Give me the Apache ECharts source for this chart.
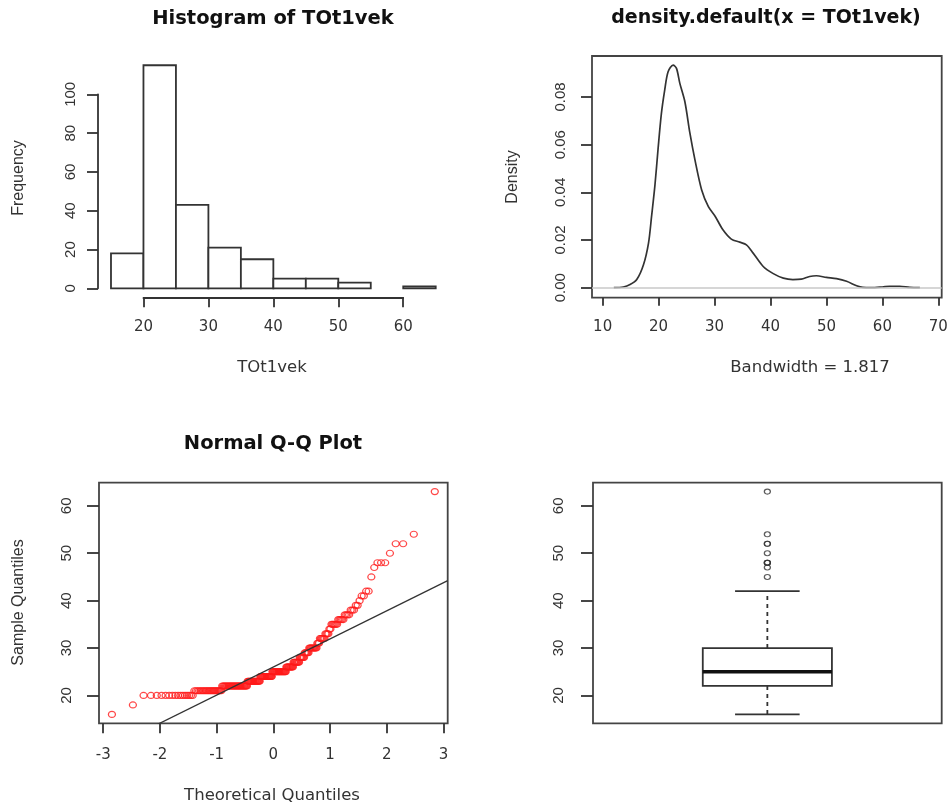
<!DOCTYPE html>
<html lang="en">
<head>
<meta charset="UTF-8">
<title>TOt1vek</title>
<script src="https://cdn.jsdelivr.net/npm/echarts@6.0.0/dist/echarts.min.js"></script>
<style>
  html, body { margin: 0; padding: 0; background: #fff; }
  #main { width: 948px; height: 805px; }
</style>
</head>
<body>
<div id="main"></div>
<script>
// histogram of TOt1vek
var histBreaks = [15, 20, 25, 30, 35, 40, 45, 50, 55, 60, 65];
var histCounts = [18, 115, 43, 21, 15, 5, 5, 3, 0, 1];
var histXTicks = [20, 30, 40, 50, 60];
var histYTicks = [0, 20, 40, 60, 80, 100];

// density curve
var densX = [12.0, 13.7, 14.9, 16.1, 17.3, 18.2, 18.75, 19.35, 19.9, 20.5, 21.1, 21.7, 22.6, 23.2, 23.8, 24.7,
  25.6, 26.5, 27.7, 28.9, 30.1, 31.5, 33.0, 34.5, 35.7, 36.9, 38.7, 40.5, 42.3, 44.0, 45.5, 47.0,
  48.2, 50.0, 51.8, 53.6, 55.4, 56.5, 58.0, 60.0, 61.3, 63.1, 64.9, 66.7];
var densY = [0, 0.0003, 0.0013, 0.0034, 0.0096, 0.0187, 0.030, 0.043, 0.058, 0.073, 0.083, 0.0906, 0.0934, 0.092, 0.0857, 0.078,
  0.0648, 0.0536, 0.041, 0.034, 0.030, 0.0243, 0.0204, 0.0191, 0.018, 0.0145, 0.0089, 0.0059, 0.004, 0.0034, 0.0036, 0.0047,
  0.005, 0.0043, 0.0038, 0.0027, 0.0008, 0.0001, 0, 0.0003, 0.0006, 0.0006, 0.0001, 0];
var densXTicks = [10, 20, 30, 40, 50, 60, 70];
var densYTicks = [0, 0.02, 0.04, 0.06, 0.08];
var bandwidth = '1.817';

// sample values and how many times each one occurs (n = 226)
var sampleValues = [16, 18, 20, 21, 22, 23, 24, 25, 26, 27, 28, 29, 30, 31, 32, 33, 34, 35, 36, 37, 38, 39, 40, 41, 42, 45, 47, 48, 50, 52, 54, 63];
var sampleCounts = [1, 1, 16, 23, 32, 19, 19, 22, 11, 9, 7, 6, 10, 3, 6, 4, 2, 6, 5, 4, 3, 2, 1, 2, 2, 1, 1, 3, 1, 2, 1, 1];
var qqXTicks = [-3, -2, -1, 0, 1, 2, 3];
var qqYTicks = [20, 30, 40, 50, 60];

// boxplot: lower whisker, Q1, median, Q3, upper whisker
var boxStats = [16, 22, 25, 30, 42];
var boxOutliers = [45, 47, 48, 48, 48, 50, 52, 52, 54, 63];

var FONT_H = 'DejaVu Sans';
var FONT_V = 'Liberation Sans';
var INK = '#333';
var LW = 1.8;

// plot regions in pixels and their data ranges
var P1 = {x0: 98, x1: 448.7, y0: 56.3, y1: 297.3, xr: [13, 67], yr: [-4.6, 119.6]};
var P2 = {x0: 592, x1: 941.7, y0: 56, y1: 297.7, xr: [8.1, 70.6], yr: [-0.0042, 0.0972]};
var P3 = {x0: 99, x1: 447.7, y0: 482.7, y1: 723.3, xr: [-3.074, 3.074], yr: [14.12, 64.88]};
var P4 = {x0: 593, x1: 941.7, y0: 482.7, y1: 723.3, xr: [0.46, 1.54], yr: [14.12, 64.88]};

function sx(P, v) { return P.x0 + (v - P.xr[0]) / (P.xr[1] - P.xr[0]) * (P.x1 - P.x0); }
function sy(P, v) { return P.y1 - (v - P.yr[0]) / (P.yr[1] - P.yr[0]) * (P.y1 - P.y0); }
function gridOf(x0, x1, y0, y1, border) {
  return {left: x0, top: y0, width: x1 - x0, height: y1 - y0, containLabel: false, outerBoundsMode: 'none',
    show: !!border, borderColor: '#444', borderWidth: LW, backgroundColor: 'transparent'};
}

// inverse normal cdf (Acklam)
function qnorm(p) {
  var a = [-3.969683028665376e+01, 2.209460984245205e+02, -2.759285104469687e+02, 1.383577518672690e+02, -3.066479806614716e+01, 2.506628277459239e+00];
  var b = [-5.447609879822406e+01, 1.615858368580409e+02, -1.556989798598866e+02, 6.680131188771972e+01, -1.328068155288572e+01];
  var c = [-7.784894002430293e-03, -3.223964580411365e-01, -2.400758277161838e+00, -2.549732539343734e+00, 4.374664141464968e+00, 2.938163982698783e+00];
  var d = [7.784695709041462e-03, 3.224671290700398e-01, 2.445134137142996e+00, 3.754408661907416e+00];
  var pl = 0.02425, q, r;
  if (p < pl) {
    q = Math.sqrt(-2 * Math.log(p));
    return (((((c[0]*q+c[1])*q+c[2])*q+c[3])*q+c[4])*q+c[5]) / ((((d[0]*q+d[1])*q+d[2])*q+d[3])*q+1);
  }
  if (p > 1 - pl) {
    q = Math.sqrt(-2 * Math.log(1 - p));
    return -(((((c[0]*q+c[1])*q+c[2])*q+c[3])*q+c[4])*q+c[5]) / ((((d[0]*q+d[1])*q+d[2])*q+d[3])*q+1);
  }
  q = p - 0.5; r = q * q;
  return (((((a[0]*r+a[1])*r+a[2])*r+a[3])*r+a[4])*r+a[5])*q / (((((b[0]*r+b[1])*r+b[2])*r+b[3])*r+b[4])*r+1);
}

// sorted sample -> normal scores, like qqnorm
var sorted = [];
for (var i = 0; i < sampleValues.length; i++) {
  for (var k = 0; k < sampleCounts[i]; k++) sorted.push(sampleValues[i]);
}
var n = sorted.length;
var qqData = sorted.map(function (v, j) { return [qnorm((j + 0.5) / n), v]; });

function quantile7(arr, p) {
  var h = (arr.length - 1) * p, lo = Math.floor(h);
  return arr[lo] + (h - lo) * ((arr[Math.min(lo + 1, arr.length - 1)]) - arr[lo]);
}
var qa = quantile7(sorted, 0.25), qb = quantile7(sorted, 0.75);
var za = qnorm(0.25), zb = qnorm(0.75);
var slope = (qb - qa) / (zb - za), icpt = qa - slope * za;
var qqLine = [[P3.xr[0], icpt + slope * P3.xr[0]], [P3.xr[1], icpt + slope * P3.xr[1]]];

var histData = histCounts.map(function (c, j) { return [histBreaks[j], histBreaks[j + 1], c]; });
var densData = densX.map(function (x, j) { return [x, densY[j]]; });

var hLabel = {color: INK, fontFamily: FONT_H, fontSize: 15};
var vLabel = {color: INK, fontFamily: FONT_V, fontSize: 15, rotate: 90};
var tickStyle = {color: INK, width: LW};

function hiddenAxis(g, r) {
  return {type: 'value', gridIndex: g, min: r[0], max: r[1], show: false, axisLine: {onZero: false}};
}

var chart = echarts.init(document.getElementById('main'), null, {renderer: 'canvas'});

var option = {
  animation: false,
  backgroundColor: '#fff',
  grid: [
    gridOf(P1.x0, P1.x1, P1.y0, P1.y1, false),
    gridOf(sx(P1, 20), sx(P1, 60), P1.y0, P1.y1, false),
    gridOf(P1.x0, P1.x1, sy(P1, 100), sy(P1, 0), false),
    gridOf(P2.x0, P2.x1, P2.y0, P2.y1, true),
    gridOf(P3.x0, P3.x1, P3.y0, P3.y1, true),
    gridOf(P4.x0, P4.x1, P4.y0, P4.y1, true)
  ],
  xAxis: [
    hiddenAxis(0, P1.xr),
    {type: 'value', gridIndex: 1, min: 20, max: 60, interval: 10, position: 'bottom',
      axisLine: {show: true, onZero: false, lineStyle: tickStyle},
      axisTick: {show: true, length: 10, lineStyle: tickStyle},
      axisLabel: Object.assign({margin: 22}, hLabel), splitLine: {show: false}},
    hiddenAxis(2, P1.xr),
    {type: 'value', gridIndex: 3, min: P2.xr[0], max: P2.xr[1], position: 'bottom',
      axisLine: {show: false, onZero: false},
      axisTick: {show: true, length: 8, lineStyle: tickStyle, customValues: densXTicks},
      axisLabel: Object.assign({margin: 22, customValues: densXTicks}, hLabel), splitLine: {show: false}},
    {type: 'value', gridIndex: 4, min: P3.xr[0], max: P3.xr[1], position: 'bottom',
      axisLine: {show: false, onZero: false},
      axisTick: {show: true, length: 10, lineStyle: tickStyle, customValues: qqXTicks},
      axisLabel: Object.assign({margin: 24, customValues: qqXTicks}, hLabel), splitLine: {show: false}},
    hiddenAxis(5, P4.xr)
  ],
  yAxis: [
    hiddenAxis(0, P1.yr),
    hiddenAxis(1, P1.yr),
    {type: 'value', gridIndex: 2, min: 0, max: 100, interval: 20, position: 'left',
      axisLine: {show: true, onZero: false, lineStyle: tickStyle},
      axisTick: {show: true, length: 11, lineStyle: tickStyle},
      axisLabel: Object.assign({margin: 20}, vLabel), splitLine: {show: false}},
    {type: 'value', gridIndex: 3, min: P2.yr[0], max: P2.yr[1], position: 'left',
      axisLine: {show: false, onZero: false},
      axisTick: {show: true, length: 11, lineStyle: tickStyle, customValues: densYTicks},
      axisLabel: Object.assign({margin: 24, customValues: densYTicks,
        formatter: function (v) { return v.toFixed(2); }}, vLabel), splitLine: {show: false}},
    {type: 'value', gridIndex: 4, min: P3.yr[0], max: P3.yr[1], position: 'left',
      axisLine: {show: false, onZero: false},
      axisTick: {show: true, length: 12, lineStyle: tickStyle, customValues: qqYTicks},
      axisLabel: Object.assign({margin: 25, customValues: qqYTicks}, vLabel), splitLine: {show: false}},
    {type: 'value', gridIndex: 5, min: P4.yr[0], max: P4.yr[1], position: 'left',
      axisLine: {show: false, onZero: false},
      axisTick: {show: true, length: 12, lineStyle: tickStyle, customValues: qqYTicks},
      axisLabel: Object.assign({margin: 27, customValues: qqYTicks}, vLabel), splitLine: {show: false}}
  ],
  series: [
    {
      type: 'custom', xAxisIndex: 0, yAxisIndex: 0, data: histData,
      encode: {x: [0, 1], y: 2},
      renderItem: function (params, api) {
        if (api.value(2) <= 0) return null;
        var p0 = api.coord([api.value(0), api.value(2)]);
        var p1 = api.coord([api.value(1), 0]);
        return {type: 'rect', shape: {x: p0[0], y: p0[1], width: p1[0] - p0[0], height: p1[1] - p0[1]},
          style: {fill: '#fff', stroke: INK, lineWidth: LW}};
      }
    },
    {
      type: 'line', xAxisIndex: 3, yAxisIndex: 3, data: densData, showSymbol: false, smooth: 0.3,
      lineStyle: {color: INK, width: 1.7}, z: 3,
      markLine: {silent: true, symbol: 'none', label: {show: false},
        lineStyle: {color: '#c8c8c8', width: 1.5, type: 'solid'}, data: [{yAxis: 0}]}
    },
    {
      type: 'scatter', xAxisIndex: 4, yAxisIndex: 4, data: qqData, symbol: 'circle', symbolSize: [7, 6],
      itemStyle: {color: 'rgba(0,0,0,0)', borderColor: '#ff1a1a', borderWidth: 1.2}
    },
    {
      type: 'line', xAxisIndex: 4, yAxisIndex: 4, data: qqLine, showSymbol: false, clip: true,
      lineStyle: {color: INK, width: 1.3}, z: 4
    },
    {
      type: 'custom', xAxisIndex: 5, yAxisIndex: 5, data: [[1].concat(boxStats)],
      encode: {x: 0, y: [1, 2, 3, 4, 5]},
      renderItem: function (params, api) {
        var x = api.value(0);
        var lo = api.value(1), q1 = api.value(2), md = api.value(3), q3 = api.value(4), hi = api.value(5);
        var bw = 0.2, cw = 0.1;
        var a = api.coord([x - bw, q3]), b = api.coord([x + bw, q1]);
        var m0 = api.coord([x - bw, md]), m1 = api.coord([x + bw, md]);
        var c = api.coord([x, 0]);
        var yLo = api.coord([x, lo])[1], yHi = api.coord([x, hi])[1];
        var cl = api.coord([x - cw, 0])[0], cr = api.coord([x + cw, 0])[0];
        var st = {stroke: INK, lineWidth: LW};
        return {type: 'group', children: [
          {type: 'line', shape: {x1: c[0], y1: a[1], x2: c[0], y2: yHi}, style: {stroke: INK, lineWidth: LW, lineDash: [4, 4]}},
          {type: 'line', shape: {x1: c[0], y1: b[1], x2: c[0], y2: yLo}, style: {stroke: INK, lineWidth: LW, lineDash: [4, 4]}},
          {type: 'line', shape: {x1: cl, y1: yHi, x2: cr, y2: yHi}, style: st},
          {type: 'line', shape: {x1: cl, y1: yLo, x2: cr, y2: yLo}, style: st},
          {type: 'rect', shape: {x: a[0], y: a[1], width: b[0] - a[0], height: b[1] - a[1]}, style: {fill: '#fff', stroke: INK, lineWidth: LW}},
          {type: 'line', shape: {x1: m0[0], y1: m0[1], x2: m1[0], y2: m1[1]}, style: {stroke: '#111', lineWidth: 3.5}}
        ]};
      }
    },
    {
      type: 'scatter', xAxisIndex: 5, yAxisIndex: 5, data: boxOutliers.map(function (v) { return [1, v]; }),
      symbol: 'circle', symbolSize: [6, 5],
      itemStyle: {color: 'rgba(0,0,0,0)', borderColor: INK, borderWidth: 1.2}
    }
  ],
  graphic: [
    {type: 'text', x: 273, y: 18.5, style: {text: 'Histogram of TOt1vek', fill: '#111', font: 'bold 19.5px "DejaVu Sans"', align: 'center', verticalAlign: 'middle'}},
    {type: 'text', x: 766, y: 18.5, style: {text: 'density.default(x = TOt1vek)', fill: '#111', font: 'bold 19px "DejaVu Sans"', align: 'center', verticalAlign: 'middle'}},
    {type: 'text', x: 273, y: 444, style: {text: 'Normal Q-Q Plot', fill: '#111', font: 'bold 19.5px "DejaVu Sans"', align: 'center', verticalAlign: 'middle'}},
    {type: 'text', x: 272, y: 368, style: {text: 'TOt1vek', fill: INK, font: '16.5px "DejaVu Sans"', align: 'center', verticalAlign: 'middle'}},
    {type: 'text', x: 810, y: 368, style: {text: 'Bandwidth = ' + bandwidth, fill: INK, font: '16.5px "DejaVu Sans"', align: 'center', verticalAlign: 'middle'}},
    {type: 'text', x: 272, y: 795.5, style: {text: 'Theoretical Quantiles', fill: INK, font: '16.5px "DejaVu Sans"', align: 'center', verticalAlign: 'middle'}},
    {type: 'text', x: 19, y: 178, rotation: Math.PI / 2, style: {text: 'Frequency', fill: INK, font: '16px "Liberation Sans"', align: 'center', verticalAlign: 'middle'}},
    {type: 'text', x: 513, y: 177, rotation: Math.PI / 2, style: {text: 'Density', fill: INK, font: '16px "Liberation Sans"', align: 'center', verticalAlign: 'middle'}},
    {type: 'text', x: 18.5, y: 602.5, rotation: Math.PI / 2, style: {text: 'Sample Quantiles', fill: INK, font: '16px "Liberation Sans"', align: 'center', verticalAlign: 'middle'}}
  ]
};
chart.setOption(option);
</script>
</body>
</html>
